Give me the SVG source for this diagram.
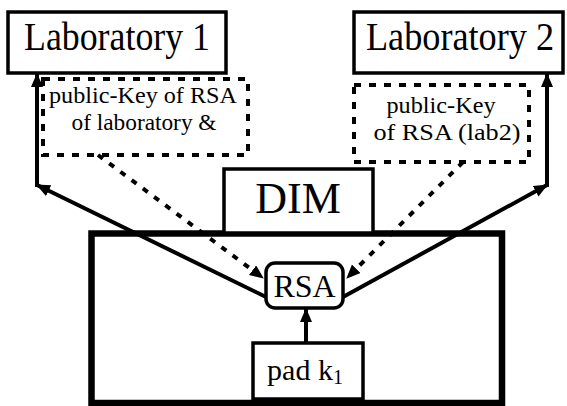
<svg xmlns="http://www.w3.org/2000/svg" width="567" height="406" viewBox="0 0 567 406">
<style>
  .box{fill:#fff;stroke:#000;stroke-width:3.5}
  .dot{fill:none;stroke:#000;stroke-width:4;stroke-dasharray:7 8}
  .ln{fill:none;stroke:#000;stroke-width:4}
  .dl{fill:none;stroke:#000;stroke-width:4;stroke-dasharray:6 8}
  .t{fill:#000;text-anchor:middle}
</style>
<defs>
  <marker id="ah" markerUnits="userSpaceOnUse" markerWidth="16" markerHeight="14" refX="13" refY="6" orient="auto">
    <path d="M0,0 L14,6 L0,12 Z" fill="#000"/>
  </marker>
</defs>
<rect width="567" height="406" fill="#fff"/>
<g id="main-box">
  <rect x="91.5" y="233.5" width="410.5" height="169.5" fill="none" stroke="#000" stroke-width="6.5"/>
</g>
<g id="lab1" font-family="Liberation Serif, Times New Roman, serif">
  <rect class="box" x="8" y="12" width="218" height="61"/>
  <text class="t" x="117" y="50" font-size="39" textLength="186" lengthAdjust="spacingAndGlyphs">Laboratory 1</text>
</g>
<g id="lab2" font-family="Liberation Serif, Times New Roman, serif">
  <rect class="box" x="354" y="12" width="209" height="61"/>
  <text class="t" x="460" y="50" font-size="39" textLength="188" lengthAdjust="spacingAndGlyphs">Laboratory 2</text>
</g>
<g id="key1" font-family="Liberation Serif, Times New Roman, serif">
  <rect class="dot" x="43" y="79" width="205" height="76"/>
  <text class="t" x="143" y="103" font-size="24" textLength="188" lengthAdjust="spacingAndGlyphs">public-Key of RSA</text>
  <text class="t" x="144" y="130" font-size="24" textLength="145" lengthAdjust="spacingAndGlyphs">of laboratory &amp;</text>
</g>
<g id="key2" font-family="Liberation Serif, Times New Roman, serif">
  <rect class="dot" x="354" y="85" width="175" height="77"/>
  <text class="t" x="441" y="113" font-size="24" textLength="109" lengthAdjust="spacingAndGlyphs">public-Key</text>
  <text class="t" x="447" y="140" font-size="24" textLength="147" lengthAdjust="spacingAndGlyphs">of RSA (lab2)</text>
</g>
<g id="dim" font-family="Liberation Serif, Times New Roman, serif">
  <rect class="box" x="224" y="169" width="149" height="64"/>
  <text class="t" x="298" y="213" font-size="44">DIM</text>
</g>
<g id="rsa" font-family="Liberation Serif, Times New Roman, serif">
  <rect class="box" x="266" y="263" width="77" height="45" rx="9"/>
  <text class="t" x="304.5" y="297" font-size="32">RSA</text>
</g>
<g id="pad" font-family="Liberation Serif, Times New Roman, serif">
  <rect class="box" x="253" y="343" width="110" height="56" stroke-width="3"/>
  <text class="t" x="305" y="380" font-size="30">pad k<tspan font-size="20" dy="4">1</tspan></text>
</g>
<g id="connectors">
  <line class="ln" x1="266" y1="297" x2="37" y2="185" marker-end="url(#ah)"/>
  <line class="ln" x1="37" y1="187" x2="37" y2="74" marker-end="url(#ah)"/>
  <line class="ln" x1="343" y1="297" x2="547" y2="185" marker-end="url(#ah)"/>
  <line class="ln" x1="547" y1="187" x2="547" y2="74" marker-end="url(#ah)"/>
  <line class="dl" x1="98" y1="155" x2="263" y2="278" marker-end="url(#ah)"/>
  <line class="dl" x1="463" y1="162" x2="347" y2="278" marker-end="url(#ah)"/>
  <line class="ln" x1="306" y1="343" x2="306" y2="309" marker-end="url(#ah)"/>
</g>
</svg>
